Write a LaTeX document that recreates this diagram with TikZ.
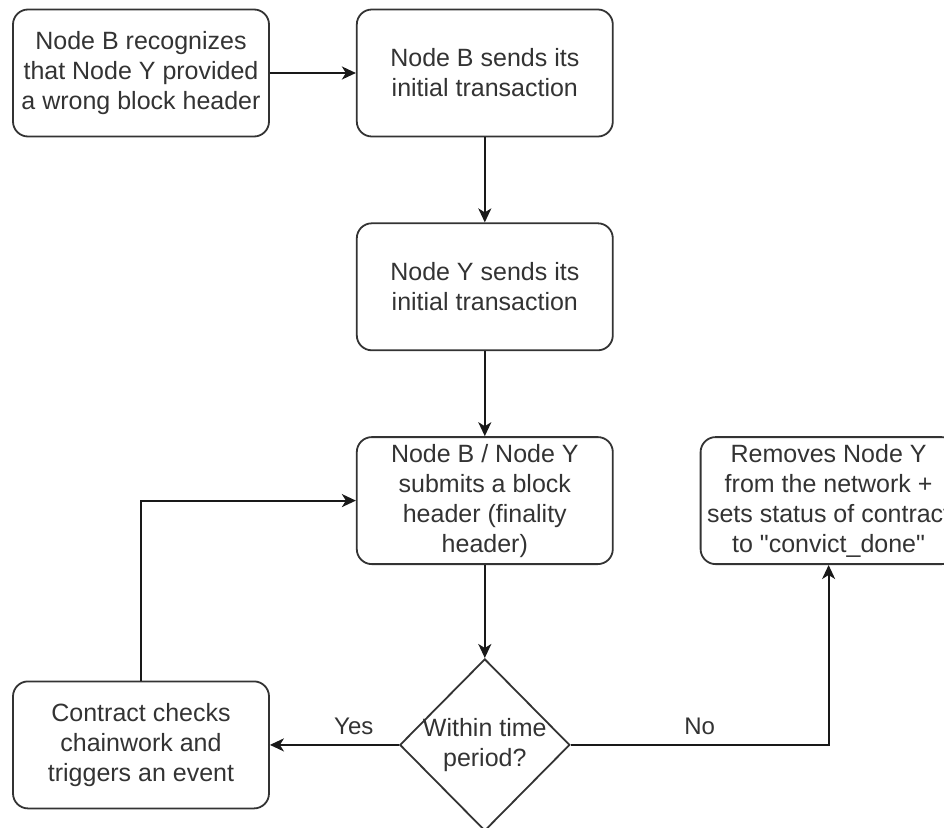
\documentclass[tikz,border=0pt]{standalone}
\usepackage{fontspec}
\setmainfont{Liberation Sans}
\usetikzlibrary{arrows.meta, positioning, shapes.geometric}

\begin{document}
\begin{tikzpicture}[
  x=1pt, y=-1pt,
  node distance=85pt and 86pt,
  every node/.style={font=\fontsize{25}{30}\selectfont, text=black!80},
  stepbox/.style={rectangle, draw=black!80, line width=1.8pt, rounded corners=15pt, minimum width=256pt, minimum height=127pt, align=center, inner sep=0pt},
  decision/.style={diamond, draw=black!80, line width=1.8pt, minimum width=170pt, minimum height=172pt, inner sep=0pt},
  arr/.style={-{Stealth[length=14pt, width=13pt, inset=4pt]}, line width=2pt, draw=black!90},
  lbl/.style={font=\fontsize{24}{28}\selectfont}
]
\useasboundingbox (0,0) rectangle (944,827);
\clip (0,0) rectangle (944,827);

% Nodes
\node[stepbox] (recognize) at (141,73) {Node B recognizes\\that Node Y provided\\a wrong block header};
\node[stepbox, right=of recognize] (sendB) {Node B sends its\\initial transaction};
\node[stepbox, below=of sendB] (sendY) {Node Y sends its\\initial transaction};
\node[stepbox, below=of sendY] (submit) {Node B / Node Y\\submits a block\\header (finality\\header)};
\node[stepbox, right=of submit] (remove) {Removes Node Y\\from the network +\\sets status of contract\\to \textquotedbl convict\_done\textquotedbl};
\node[decision, below=93pt of submit] (check) {};
\node[align=center] (checktext) at (check) {Within time\\period?};
\node[stepbox, left=129pt of check] (chainwork) {Contract checks\\chainwork and\\triggers an event};

% Edges
\draw[arr] (recognize) -- (sendB);
\draw[arr] (sendB) -- (sendY);
\draw[arr] (sendY) -- (submit);
\draw[arr] (submit) -- (check);
\draw[arr] (check.west) -- node[lbl, above=6pt, pos=0.35] {Yes} (chainwork.east);
\draw[arr] (check.east) -| node[lbl, above=6pt, pos=0.25] {No} (remove.south);
\draw[arr] (chainwork.north) |- (submit.west);

\end{tikzpicture}
\end{document}
